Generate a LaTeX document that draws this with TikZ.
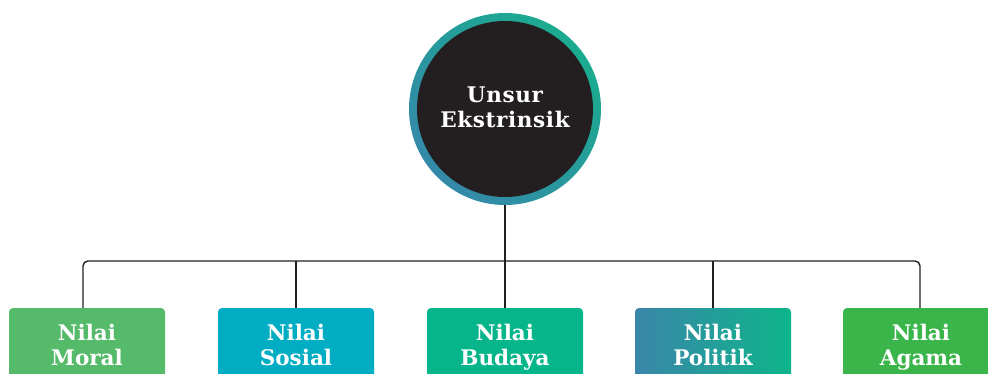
\documentclass[tikz,border=0pt]{standalone}
\usepackage{fontspec}
\setmainfont{DejaVu Serif}
\usepackage{xcolor}
\usepackage{tikz}

\definecolor{dark}{HTML}{231F20}
\definecolor{ringteal}{HTML}{1BAB8F}
\definecolor{ringblue}{HTML}{3489A9}
\definecolor{moral}{HTML}{56BA6B}
\definecolor{sosial}{HTML}{00ADC2}
\definecolor{budaya}{HTML}{06B58A}
\definecolor{polblue}{HTML}{3A86A9}
\definecolor{polteal}{HTML}{0DB58A}
\definecolor{agama}{HTML}{39B54A}

\begin{document}
\begin{tikzpicture}[x=1pt,y=-1pt,
    nilai/.style={rectangle,rounded corners=4pt,minimum width=156pt,minimum height=82pt,
      align=center,text=white,font=\bfseries\fontsize{21.5}{25}\selectfont,inner sep=0pt},
    link/.style={draw=dark,line width=1.4pt}]
    \clip (0,0) rectangle (988,374);

    \node[circle,minimum size=192pt,inner sep=0pt,top color=ringteal,bottom color=ringblue,
      shading angle=-45] (ext) at (505,109) {};
    \node[circle,minimum size=176pt,fill=dark] (core) at (ext) {};
    \node[text=white,align=center,font=\bfseries\fontsize{21.5}{25}\selectfont\addfontfeature{LetterSpace=3}]
      (title) at (505,107) {Unsur\\Ekstrinsik};

    \node[nilai,fill=moral] (moral) at (87,349) {Nilai\\Moral\strut};
    \node[nilai,fill=sosial] (sosial) at (296,349) {Nilai\\Sosial\strut};
    \node[nilai,fill=budaya] (budaya) at (505,349) {Nilai\\Budaya\strut};
    \node[nilai,left color=polblue,right color=polteal] (politik) at (713,349) {Nilai\\Politik\strut};
    \node[nilai,fill=agama] (agama) at (921,349) {Nilai\\Agama\strut};

    \coordinate (bus) at (505,261);
    \draw[link,rounded corners=5pt] ([xshift=-4pt]moral.north) |- (bus) -| ([xshift=-1pt]agama.north);
    \draw[link] (ext.south) -- (budaya.north);
    \draw[link] (sosial.north) -- (sosial.north |- bus);
    \draw[link] (politik.north) -- (politik.north |- bus);
  \end{tikzpicture}
\end{document}
